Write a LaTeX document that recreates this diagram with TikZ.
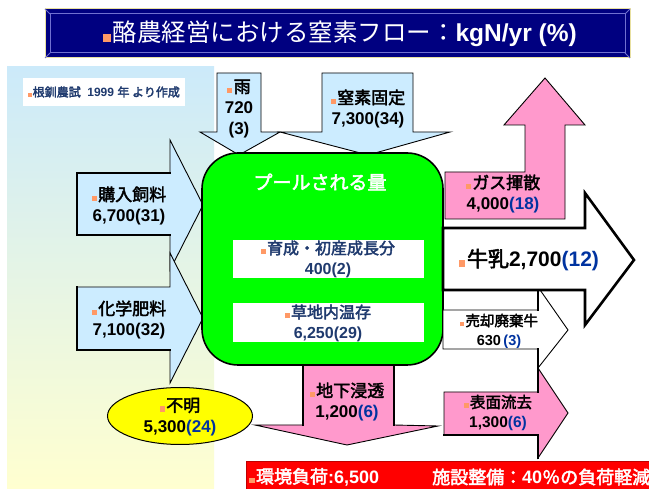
\documentclass[tikz,border=0pt]{standalone}
\usepackage{fontspec}
\setmainfont{Liberation Sans}
\newfontfamily\jpf{Noto Sans CJK JP}[AutoFakeBold=2.5]
\newfontfamily\jpr{Noto Sans CJK JP}
\usetikzlibrary{shapes.geometric}
\definecolor{navy}{HTML}{000080}
\definecolor{bevel}{HTML}{7070D0}
\definecolor{gold}{HTML}{E8E0A0}
\definecolor{lblue}{HTML}{CCECFF}
\definecolor{pinkc}{HTML}{FF99CC}
\definecolor{greenc}{HTML}{00FF00}
\definecolor{yellowc}{HTML}{FFFF00}
\definecolor{bulc}{HTML}{FF9966}
\definecolor{txtnavy}{HTML}{1F3A6E}
\definecolor{numblue}{HTML}{0033A0}
\definecolor{redc}{HTML}{FF0000}
\definecolor{dredc}{HTML}{C00000}
\definecolor{bgtop}{HTML}{CCEAFA}
\definecolor{bgbot}{HTML}{FFFFD0}
\newcommand\bl{\textcolor{bulc}{\rule{0.3em}{0.3em}}\hspace{0.08em}}
\newcommand\fsz[2]{\fontsize{#1}{#2}\selectfont}
\newcommand\J[1]{{\jpf\bfseries #1}}
\begin{document}
\begin{tikzpicture}[x=1pt,y=-1pt,
  lbshape/.style={fill=lblue,draw=black,line width=0.9pt,line join=miter},
  pkshape/.style={fill=pinkc,draw=black,line width=0.9pt,line join=miter},
  whshape/.style={fill=white,draw=black,line width=0.9pt,line join=miter},
  thickedge/.style={draw=black,line width=2.6pt,line cap=rect},
  lab/.style={inner sep=0pt,align=center,font=\bfseries\fsz{17}{21}},
  boxlab/.style={inner sep=0pt,align=center,font=\bfseries\fsz{16}{20},text=txtnavy}]
\useasboundingbox (0,0) rectangle (649,489);
\fill[white] (0,0) rectangle (649,489);
% background panel
\shade[top color=bgtop,bottom color=bgbot,middle color=bgtop!50!bgbot] (7,67) rectangle (214,489);
% title
\fill[navy,draw=gold,line width=1pt] (45,9) rectangle (630,58);
\draw[bevel,line width=1pt] (50,14) rectangle (625,53);
\draw[bevel,line width=0.8pt] (45,9)--(50,14) (630,9)--(625,14) (45,58)--(50,53) (630,58)--(625,53);
\node[inner sep=0pt,text=white,font=\fsz{24.5}{26}] (title) at (340,34) {\bl{\jpr 酪農経営における窒素フロー：}\textbf{kgN/yr (\%)}};
% reference label
\node[fill=white,minimum width=162pt,minimum height=28pt,inner sep=0pt,font=\bfseries\fsz{12}{13},text=txtnavy] (ref) at (104,92) {\bl\J{根釧農試}\ \ 1999 \J{年 より作成}};
% rain arrow
\draw[lbshape] (217,73)--(261,73)--(261,132)--(280,132)--(239,155)--(200,132)--(217,132)--cycle;
% N fixation arrow
\draw[lbshape] (322,73)--(413,73)--(413,132)--(450,132)--(368,155)--(280,132)--(322,132)--cycle;
% purchased feed
\draw[lbshape] (77,173)--(170,173)--(170,140)--(203,205)--(170,270)--(170,235)--(77,235)--cycle;
\draw[thickedge] (170,173)--(77,173)--(77,235)--(170,235);
% fertilizer
\draw[lbshape] (77,287)--(170,287)--(170,253)--(203,318)--(170,383)--(170,350)--(77,350)--cycle;
\draw[thickedge] (77,287)--(77,350)--(170,350);
% groundwater
\draw[pkshape] (303,363)--(394,363)--(394,425)--(438,426)--(347,445)--(255,425)--(303,425)--cycle;
\draw[thickedge] (303,425)--(303,363) (394,363)--(394,425);
% pool
\draw[fill=greenc,draw=black,line width=1.6pt,rounded corners=36pt] (202,153) rectangle (443,365);
\node[inner sep=0pt,text=white,font=\fsz{19}{22}] (pool) at (320,182) {\J{プールされる量}};
\node[fill=white,minimum width=191pt,minimum height=38pt,boxlab] (grow) at (328,259) {\bl\J{育成・初産成長分}\\400(2)};
\node[fill=white,minimum width=191pt,minimum height=39pt,boxlab] (grass) at (328,323) {\bl\J{草地内温存}\\6,250(29)};
% gas arrow
\draw[pkshape] (445,172)--(525,172)--(525,125)--(504,125)--(545,78)--(585,125)--(565,125)--(565,219)--(445,219)--cycle;
% sold cows
\draw[whshape] (443,310)--(538,310)--(538,287)--(568,330)--(538,368)--(538,349)--(443,349)--cycle;
\draw[thickedge] (538,349)--(538,368) (538,290)--(538,310);
% milk
\draw[whshape,line width=2.6pt] (443,228)--(585,228)--(585,193)--(634,260)--(585,325)--(585,290)--(443,290)--cycle;
% runoff
\draw[pkshape] (444,392)--(538,392)--(538,368)--(568,413)--(538,458)--(538,435)--(444,435)--cycle;
\draw[thickedge] (538,368)--(538,392) (444,435)--(538,435)--(538,458);
% unknown
\node[ellipse,fill=yellowc,draw=black,line width=1pt,minimum width=145pt,minimum height=57pt,inner sep=0pt] (unk) at (180,416) {};
% labels
\node[lab] (rainl) at (239,109) {\bl\J{雨}\\720\\(3)};
\node[lab] (nfixl) at (368,109) {\bl\J{窒素固定}\\7,300(34)};
\node[lab] (feedl) at (129,206) {\bl\J{購入飼料}\\6,700(31)};
\node[lab] (fertl) at (129,320) {\bl\J{化学肥料}\\7,100(32)};
\node[lab] (gasl) at (503,194) {\bl\J{ガス揮散}\\4,000\textcolor{numblue}{(18)}};
\node[inner sep=0pt,font=\bfseries\fsz{21}{24}] (milkl) at (529,260) {\bl\J{牛乳}2,700\textcolor{numblue}{(12)}};
\node[lab,font=\bfseries\fsz{14.5}{19}] (cowl) at (499,331) {\bl\J{売却廃棄牛}\\630\,\textcolor{numblue}{(3)}};
\node[lab] (unkl) at (180,417) {\bl\J{不明}\\5,300\textcolor{numblue}{(24)}};
\node[lab] (gwl) at (347,402) {\bl\J{地下浸透}\\1,200\textcolor{numblue}{(6)}};
\node[lab,font=\bfseries\fsz{15.5}{20}] (rol) at (498,413) {\bl\J{表面流去}\\1,300\textcolor{numblue}{(6)}};
% banner
\fill[redc,draw=dredc,line width=1pt] (246,462) rectangle (655,493);
\node[anchor=west,inner sep=0pt,text=white,font=\bfseries\fsz{18}{20}] (load) at (249,477) {\bl\J{環境負荷}:6,500};
\node[anchor=west,inner sep=0pt,text=white,font=\bfseries\fsz{18}{20}] (facil) at (432,477) {\J{施設整備：}40\J{％の負荷軽減}};
\end{tikzpicture}
\end{document}
